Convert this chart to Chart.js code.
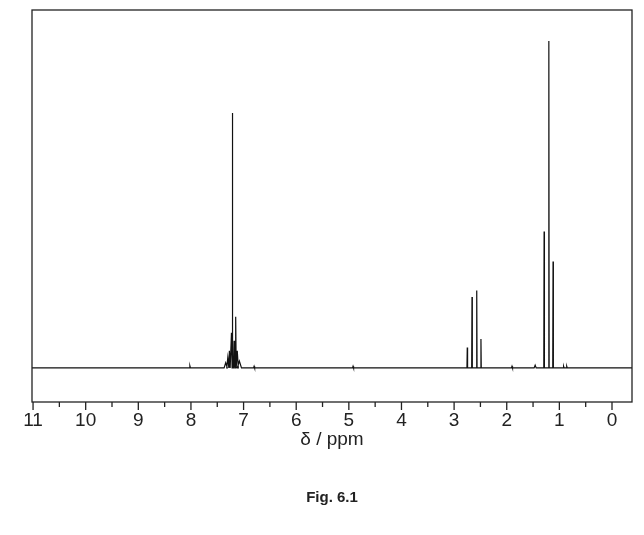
<!DOCTYPE html>
<html><head><meta charset="utf-8">
<script src="https://cdn.jsdelivr.net/npm/chart.js@4"></script>
<style>html,body{margin:0;padding:0;background:#fff}</style>
</head><body>
<canvas id="c" width="644" height="535" style="width:644px;height:535px"></canvas>
<script>
// peaks: chemical shift (ppm), intensity, half width (ppm)
const peakPpm    = [8.02, 7.34, 7.30, 7.27, 7.23, 7.21, 7.18, 7.15, 7.12, 7.08, 6.80, 4.92, 2.75, 2.66, 2.57, 2.49, 1.90, 1.46, 1.29, 1.20, 1.12, 0.92, 0.86];
const peakHeight = [0.6,  1.5,  3.0,  5.0,  10.3, 74.8, 8.0,  15.0, 5.0,  2.0,  0.5,  0.5,  6.0,  20.8, 22.7, 8.5,  0.5,  0.8,  40.0, 95.9, 31.2, 0.5,  0.5];
const peakWidth  = [0.01, 0.03, 0.02, 0.015,0.012,0.008,0.012,0.01, 0.02, 0.04, 0.01, 0.01, 0.006,0.006,0.006,0.006,0.01, 0.02, 0.006,0.006,0.006,0.01, 0.01];
const xTickValues = [11,10,9,8,7,6,5,4,3,2,1,0];
const xMin = -0.38, xMax = 11.02;

const pts = [{x:xMax,y:0}];
const order = peakPpm.map((p,i)=>i).sort((a,b)=>peakPpm[b]-peakPpm[a]);
for (const i of order) {
  pts.push({x:peakPpm[i]+peakWidth[i], y:0});
  pts.push({x:peakPpm[i], y:peakHeight[i]});
  pts.push({x:peakPpm[i]-peakWidth[i], y:0});
}
pts.push({x:xMin,y:0});

const deco = {
  id:'deco',
  afterDraw(ch){
    const c=ch.ctx, a=ch.chartArea, xs=ch.scales.x;
    c.save();
    c.strokeStyle='#222'; c.lineWidth=1.3;
    c.strokeRect(a.left,a.top,a.right-a.left,a.bottom-a.top);
    c.fillStyle='#222';
    c.font='19px "Liberation Sans", Arial, sans-serif';
    c.textAlign='center'; c.textBaseline='top';
    for (let v=0; v<=11; v+=0.5){
      const px=xs.getPixelForValue(v);
      const major = Number.isInteger(v);
      c.beginPath(); c.moveTo(px,a.bottom); c.lineTo(px,a.bottom+(major?8:5)); c.stroke();
    }
    for (const v of xTickValues){
      c.fillText(String(v), xs.getPixelForValue(v), a.bottom+9);
    }
    c.fillText('δ / ppm', (a.left+a.right)/2, 430);
    c.font='bold 15px "Liberation Sans", Arial, sans-serif';
    c.fillText('Fig. 6.1', (a.left+a.right)/2, 490);
    c.restore();
  }
};

new Chart(document.getElementById('c'), {
  type:'line',
  data:{datasets:[{data:pts, borderColor:'#111', borderWidth:1.2, pointRadius:0, tension:0, fill:false}]},
  options:{
    responsive:false, animation:false, parsing:false,
    layout:{padding:{left:32,right:12,top:10,bottom:0}},
    plugins:{legend:{display:false},tooltip:{enabled:false}},
    scales:{
      x:{type:'linear',reverse:true,min:xMin,max:xMax,
         ticks:{display:false},grid:{display:false},border:{display:false},
         afterFit(s){s.height=133;}},
      y:{min:-10,max:105,display:false}
    }
  },
  plugins:[deco]
});
</script>
</body></html>
